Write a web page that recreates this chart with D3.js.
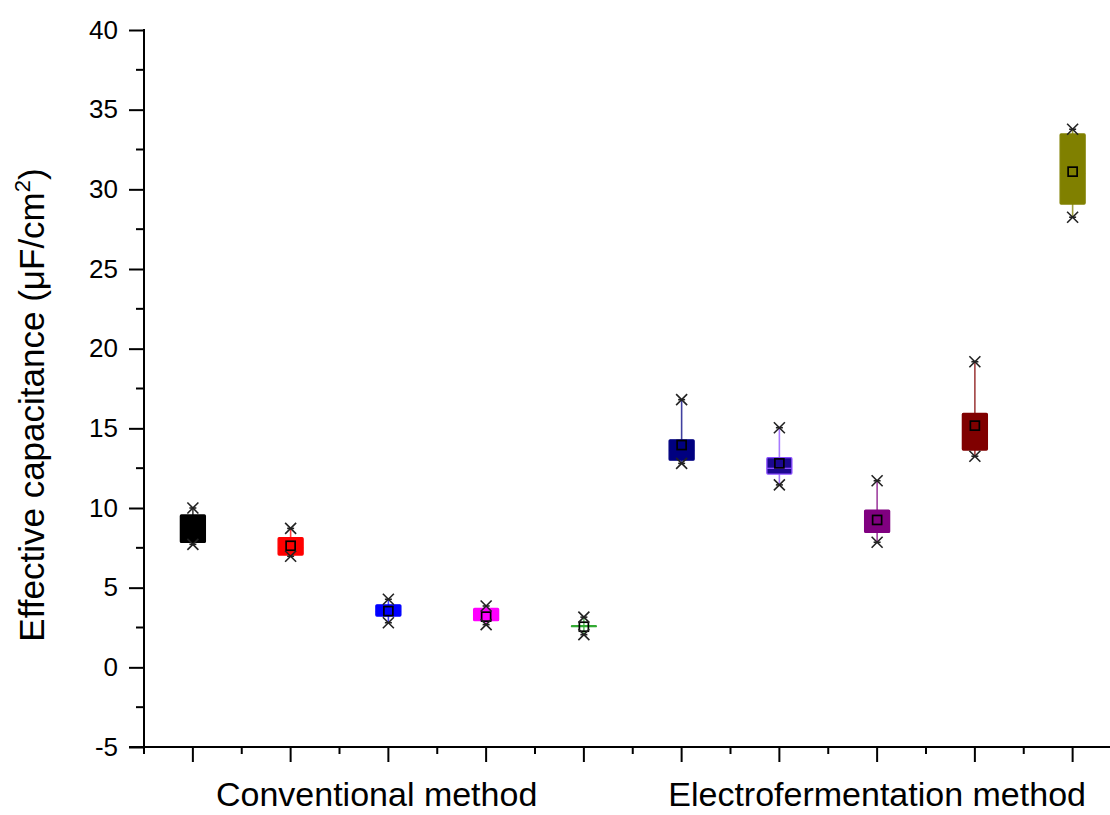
<!DOCTYPE html>
<html>
<head>
<meta charset="utf-8">
<script src="https://cdn.jsdelivr.net/npm/d3@7/dist/d3.min.js"></script>
<style>
  html, body { margin: 0; padding: 0; background: #fff; }
  svg { display: block; font-family: Arial, "Liberation Sans", sans-serif; }
</style>
</head>
<body>
<svg id="chart" width="1110" height="815"></svg>
<script>
// ---- data ----
const categories = ["C1", "C2", "C3", "C4", "C5", "E1", "E2", "E3", "E4", "E5"];
const positions  = [1, 2, 3, 4, 5, 6, 7, 8, 9, 10];
const minVals    = [7.72, 6.97, 2.80, 2.68, 2.05, 12.80, 11.45, 7.85, 13.25, 28.25];
const q1Vals     = [7.84, 7.05, 3.22, 2.93, 2.55, 13.00, 12.13, 8.47, 13.64, 29.08];
const medianVals = [8.50, 7.50, 3.50, 3.20, 2.57, 13.60, 12.49, 9.20, 14.80, 31.00];
const q3Vals     = [9.56, 8.14, 3.92, 3.70, 2.62, 14.28, 13.16, 9.87, 15.94, 33.48];
const maxVals    = [10.00, 8.72, 4.27, 3.85, 3.15, 16.80, 15.04, 11.71, 19.18, 33.77];
const meanVals   = [8.60, 7.63, 3.53, 3.18, 2.55, 13.95, 12.80, 9.25, 15.17, 31.11];
const fillColors   = ["#000000", "#ff0000", "#0000ff", "#ff00ff", "#33aa33", "#000080", "#1c0890", "#800080", "#800000", "#808000"];
const strokeColors = ["#000000", "#ff0000", "#0000ff", "#ff00ff", "#33aa33", "#000080", "#8a4cff", "#800080", "#800000", "#808000"];
const groupLabels  = ["Conventional method", "Electrofermentation method"];
const groupCenters = [2.88, 8.0];
const yTicksMajor  = [-5, 0, 5, 10, 15, 20, 25, 30, 35, 40];
const yTitle = "Effective capacitance (μF/cm";

// ---- layout ----
const svg = d3.select("#chart");
const x = d3.scaleLinear().domain([0.5, 10.5]).range([144, 1121.5]);
const y = d3.scaleLinear().domain([-5, 40]).range([747, 30]);

const data = positions.map((p, i) => ({
  pos: p, name: categories[i], min: minVals[i], q1: q1Vals[i], med: medianVals[i],
  q3: q3Vals[i], max: maxVals[i], mean: meanVals[i], fill: fillColors[i], stroke: strokeColors[i]
}));

// ---- axes ----
const axisColor = "#000";
// y axis
const yAxisMajor = d3.axisLeft(y).tickValues(yTicksMajor).tickFormat(d => String(d))
  .tickSize(15).tickSizeOuter(0).tickPadding(11);
const gy = svg.append("g").attr("transform", `translate(${x(0.5)},0)`).call(yAxisMajor);
gy.select(".domain").remove();
gy.selectAll(".tick line").attr("stroke", axisColor).attr("stroke-width", 2);
gy.selectAll(".tick text").attr("font-size", 26).attr("fill", "#000")
  .attr("font-family", "Arial, 'Liberation Sans', sans-serif");
const yMinor = d3.range(-2.5, 40, 5);
svg.append("g").selectAll("line").data(yMinor).join("line")
  .attr("x1", x(0.5) - 8).attr("x2", x(0.5))
  .attr("y1", d => y(d)).attr("y2", d => y(d))
  .attr("stroke", axisColor).attr("stroke-width", 2);
// y axis line (extends down to the minor x tick)
svg.append("line").attr("x1", x(0.5)).attr("x2", x(0.5))
  .attr("y1", y(40) - 1).attr("y2", y(-5) + 7)
  .attr("stroke", axisColor).attr("stroke-width", 2);

// x axis
svg.append("line").attr("x1", x(0.5) - 15).attr("x2", 1110)
  .attr("y1", y(-5)).attr("y2", y(-5))
  .attr("stroke", axisColor).attr("stroke-width", 2);
svg.append("g").selectAll("line").data(positions).join("line")
  .attr("x1", d => x(d)).attr("x2", d => x(d))
  .attr("y1", y(-5)).attr("y2", y(-5) + 15)
  .attr("stroke", axisColor).attr("stroke-width", 2);
svg.append("g").selectAll("line").data(positions.map(p => p + 0.5)).join("line")
  .attr("x1", d => x(d)).attr("x2", d => x(d))
  .attr("y1", y(-5)).attr("y2", y(-5) + 7)
  .attr("stroke", axisColor).attr("stroke-width", 2);

svg.append("g").selectAll("text").data(groupLabels).join("text")
  .attr("x", (d, i) => x(groupCenters[i]))
  .attr("y", 806)
  .attr("text-anchor", "middle")
  .attr("font-size", 34)
  .attr("fill", "#000")
  .text(d => d);

// y title
const yt = svg.append("text")
  .attr("transform", "translate(44,405) rotate(-90)")
  .attr("text-anchor", "middle")
  .attr("font-size", 35)
  .attr("fill", "#000");
yt.append("tspan").text(yTitle);
yt.append("tspan").attr("font-size", 22).attr("dy", -14).text("2");
yt.append("tspan").attr("dy", 14).text(")");

// ---- boxes ----
const bw = 25;
const g = svg.append("g");
const boxes = g.selectAll("g.box").data(data).join("g").attr("class", "box");

// whiskers
boxes.append("line")
  .attr("x1", d => x(d.pos)).attr("x2", d => x(d.pos))
  .attr("y1", d => y(d.q3)).attr("y2", d => y(d.max))
  .attr("stroke", d => d.stroke).attr("stroke-width", 1.6).attr("stroke-opacity", 0.75);
boxes.append("line")
  .attr("x1", d => x(d.pos)).attr("x2", d => x(d.pos))
  .attr("y1", d => y(d.q1)).attr("y2", d => y(d.min))
  .attr("stroke", d => d.stroke).attr("stroke-width", 1.6).attr("stroke-opacity", 0.75);

// box
boxes.append("rect")
  .attr("x", d => x(d.pos) - bw / 2)
  .attr("width", bw)
  .attr("y", d => y(d.q3))
  .attr("height", d => Math.max(0.5, y(d.q1) - y(d.q3)))
  .attr("rx", 1)
  .attr("fill", d => d.fill)
  .attr("stroke", d => d.stroke)
  .attr("stroke-width", 1.3);

// median
boxes.append("line")
  .attr("x1", d => x(d.pos) - bw / 2).attr("x2", d => x(d.pos) + bw / 2)
  .attr("y1", d => y(d.med)).attr("y2", d => y(d.med))
  .attr("stroke", d => d.stroke).attr("stroke-width", 1.3);

// mean square
boxes.append("rect")
  .attr("x", d => x(d.pos) - 4.5).attr("y", d => y(d.mean) - 4.5)
  .attr("width", 9).attr("height", 9)
  .attr("fill", "none").attr("stroke", "#000").attr("stroke-width", 1.7);

// star markers at min and max
function star(sel, key) {
  const s = sel.append("g")
    .attr("transform", d => `translate(${x(d.pos)},${y(d[key])})`)
    .attr("stroke", "#222").attr("stroke-width", 1.6);
  s.append("line").attr("x1", -5.5).attr("y1", -5.5).attr("x2", 5.5).attr("y2", 5.5);
  s.append("line").attr("x1", -5.5).attr("y1", 5.5).attr("x2", 5.5).attr("y2", -5.5);
  s.append("line").attr("x1", -3.5).attr("y1", 0).attr("x2", 3.5).attr("y2", 0);
}
star(boxes, "max");
star(boxes, "min");
</script>
</body>
</html>
